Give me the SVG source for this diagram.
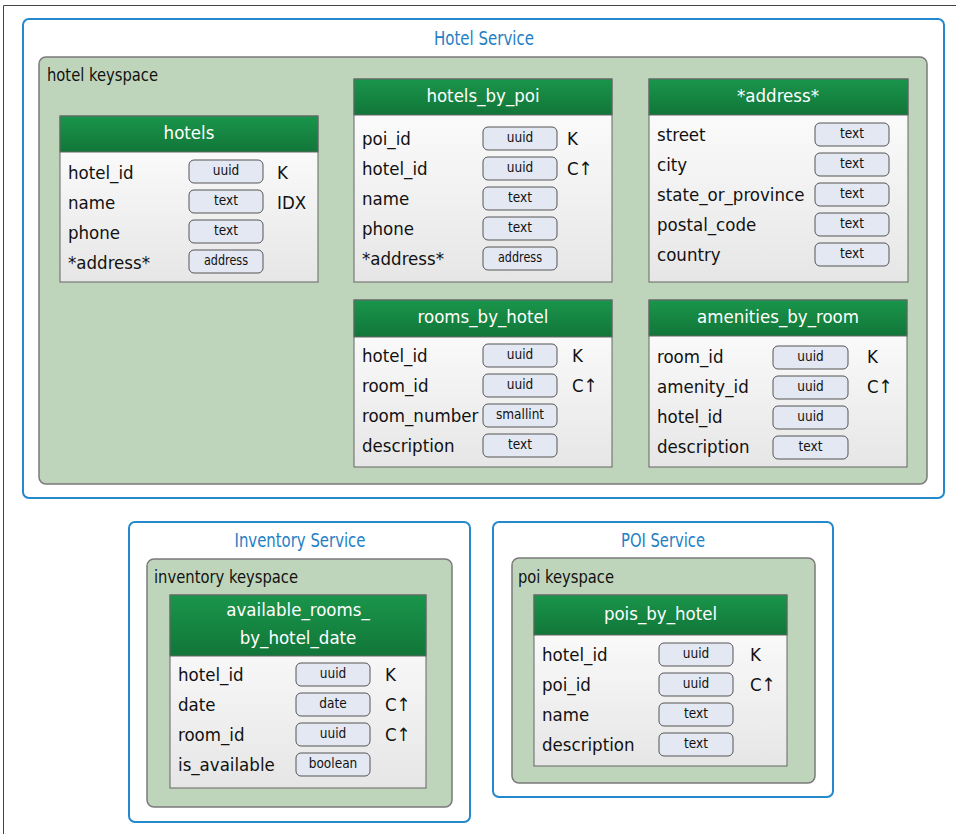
<svg xmlns="http://www.w3.org/2000/svg" width="956" height="834" viewBox="0 0 956 834">
<defs>
<linearGradient id="hdr" x1="0" y1="0" x2="0" y2="1"><stop offset="0" stop-color="#1a954b"/><stop offset="1" stop-color="#117639"/></linearGradient>
<linearGradient id="body" x1="0" y1="0" x2="0" y2="1"><stop offset="0" stop-color="#ffffff"/><stop offset="1" stop-color="#e6e6e6"/></linearGradient>
<style>
text{font-family:"DejaVu Sans Condensed","DejaVu Sans","Liberation Sans",sans-serif;font-stretch:condensed}
.svc{fill:#fff;stroke:#2388cc;stroke-width:2}
.svct{fill:#1f80c4;font-size:20px;text-anchor:middle}
.ks{fill:#bfd5bb;stroke:#7a7a7a;stroke-width:1.5}
.kst{fill:#111;font-size:18.5px}
.tb{fill:url(#body);stroke:#666;stroke-width:1}
.hd{fill:url(#hdr);stroke:#666;stroke-width:1}
.hdt{fill:#fff;font-size:18.5px;text-anchor:middle}
.lb{fill:#111;font-size:18.5px}
.pill{fill:#e3e8f3;stroke:#555;stroke-width:1}
.pt{fill:#111;font-size:13.5px;text-anchor:middle}
.frame{stroke:#444;stroke-width:1;fill:none}
</style>
</defs>
<path class="frame" d="M3.5,834 V5.5 H956"/>

<g id="hotel-service">
<rect class="svc" x="23" y="19" width="921" height="479" rx="6"/>
<text class="svct" x="484" y="45" textLength="100" lengthAdjust="spacingAndGlyphs">Hotel Service</text>
</g>
<g id="hotel-keyspace">
<rect class="ks" x="39" y="57" width="888" height="427" rx="7"/>
<text class="kst" x="47" y="81" textLength="111" lengthAdjust="spacingAndGlyphs">hotel keyspace</text>
</g>

<g id="hotels">
<rect class="tb" x="60" y="116" width="258" height="166"/>
<rect class="hd" x="60" y="116" width="258" height="36"/>
<text class="hdt" x="189" y="139">hotels</text>
<text class="lb" x="68" y="179">hotel_id</text>
<text class="lb" x="68" y="209">name</text>
<text class="lb" x="68" y="239">phone</text>
<text class="lb" x="68" y="269">*address*</text>
<rect class="pill" x="189" y="160" width="74" height="23" rx="5"/><text class="pt" x="226" y="175">uuid</text>
<rect class="pill" x="189" y="190" width="74" height="23" rx="5"/><text class="pt" x="226" y="205">text</text>
<rect class="pill" x="189" y="220" width="74" height="23" rx="5"/><text class="pt" x="226" y="235">text</text>
<rect class="pill" x="189" y="250" width="74" height="23" rx="5"/><text class="pt" x="226" y="265" textLength="44" lengthAdjust="spacingAndGlyphs">address</text>
<text class="lb" x="277" y="179">K</text>
<text class="lb" x="277" y="209">IDX</text>
</g>

<g id="hotels_by_poi">
<rect class="tb" x="354" y="79" width="258" height="203"/>
<rect class="hd" x="354" y="79" width="258" height="36"/>
<text class="hdt" x="483" y="102">hotels_by_poi</text>
<text class="lb" x="362" y="145">poi_id</text>
<text class="lb" x="362" y="175">hotel_id</text>
<text class="lb" x="362" y="205">name</text>
<text class="lb" x="362" y="235">phone</text>
<text class="lb" x="362" y="265">*address*</text>
<rect class="pill" x="483" y="127" width="74" height="23" rx="5"/><text class="pt" x="520" y="142">uuid</text>
<rect class="pill" x="483" y="157" width="74" height="23" rx="5"/><text class="pt" x="520" y="172">uuid</text>
<rect class="pill" x="483" y="187" width="74" height="23" rx="5"/><text class="pt" x="520" y="202">text</text>
<rect class="pill" x="483" y="217" width="74" height="23" rx="5"/><text class="pt" x="520" y="232">text</text>
<rect class="pill" x="483" y="247" width="74" height="23" rx="5"/><text class="pt" x="520" y="262" textLength="44" lengthAdjust="spacingAndGlyphs">address</text>
<text class="lb" x="567" y="145">K</text>
<text class="lb" x="567" y="175">C↑</text>
</g>

<g id="address-type">
<rect class="tb" x="649" y="79" width="259" height="203"/>
<rect class="hd" x="649" y="79" width="259" height="36"/>
<text class="hdt" x="778" y="102">*address*</text>
<text class="lb" x="657" y="141">street</text>
<text class="lb" x="657" y="171">city</text>
<text class="lb" x="657" y="201">state_or_province</text>
<text class="lb" x="657" y="231">postal_code</text>
<text class="lb" x="657" y="261">country</text>
<rect class="pill" x="815" y="123" width="74" height="23" rx="5"/><text class="pt" x="852" y="138">text</text>
<rect class="pill" x="815" y="153" width="74" height="23" rx="5"/><text class="pt" x="852" y="168">text</text>
<rect class="pill" x="815" y="183" width="74" height="23" rx="5"/><text class="pt" x="852" y="198">text</text>
<rect class="pill" x="815" y="213" width="74" height="23" rx="5"/><text class="pt" x="852" y="228">text</text>
<rect class="pill" x="815" y="243" width="74" height="23" rx="5"/><text class="pt" x="852" y="258">text</text>
</g>

<g id="rooms_by_hotel">
<rect class="tb" x="354" y="300" width="258" height="167"/>
<rect class="hd" x="354" y="300" width="258" height="37"/>
<text class="hdt" x="483" y="323">rooms_by_hotel</text>
<text class="lb" x="362" y="362">hotel_id</text>
<text class="lb" x="362" y="392">room_id</text>
<text class="lb" x="362" y="422">room_number</text>
<text class="lb" x="362" y="452">description</text>
<rect class="pill" x="483" y="344" width="74" height="23" rx="5"/><text class="pt" x="520" y="359">uuid</text>
<rect class="pill" x="483" y="374" width="74" height="23" rx="5"/><text class="pt" x="520" y="389">uuid</text>
<rect class="pill" x="483" y="404" width="74" height="23" rx="5"/><text class="pt" x="520" y="419">smallint</text>
<rect class="pill" x="483" y="434" width="74" height="23" rx="5"/><text class="pt" x="520" y="449">text</text>
<text class="lb" x="572" y="362">K</text>
<text class="lb" x="572" y="392">C↑</text>
</g>

<g id="amenities_by_room">
<rect class="tb" x="649" y="300" width="258" height="167"/>
<rect class="hd" x="649" y="300" width="258" height="36"/>
<text class="hdt" x="778" y="323">amenities_by_room</text>
<text class="lb" x="657" y="363">room_id</text>
<text class="lb" x="657" y="393">amenity_id</text>
<text class="lb" x="657" y="423">hotel_id</text>
<text class="lb" x="657" y="453">description</text>
<rect class="pill" x="773" y="346" width="75" height="23" rx="5"/><text class="pt" x="810.5" y="361">uuid</text>
<rect class="pill" x="773" y="376" width="75" height="23" rx="5"/><text class="pt" x="810.5" y="391">uuid</text>
<rect class="pill" x="773" y="406" width="75" height="23" rx="5"/><text class="pt" x="810.5" y="421">uuid</text>
<rect class="pill" x="773" y="436" width="75" height="23" rx="5"/><text class="pt" x="810.5" y="451">text</text>
<text class="lb" x="867" y="363">K</text>
<text class="lb" x="867" y="393">C↑</text>
</g>

<g id="inventory-service">
<rect class="svc" x="129" y="522" width="341" height="300" rx="6"/>
<text class="svct" x="300" y="547" textLength="131" lengthAdjust="spacingAndGlyphs">Inventory Service</text>
</g>
<g id="inventory-keyspace">
<rect class="ks" x="147" y="559" width="305" height="248" rx="7"/>
<text class="kst" x="154" y="583" textLength="144" lengthAdjust="spacingAndGlyphs">inventory keyspace</text>
</g>
<g id="available_rooms_by_hotel_date">
<rect class="tb" x="170" y="595" width="256" height="193"/>
<rect class="hd" x="170" y="595" width="256" height="61"/>
<text class="hdt" x="298" y="616">available_rooms_</text>
<text class="hdt" x="298" y="644">by_hotel_date</text>
<text class="lb" x="178" y="681">hotel_id</text>
<text class="lb" x="178" y="711">date</text>
<text class="lb" x="178" y="741">room_id</text>
<text class="lb" x="178" y="771">is_available</text>
<rect class="pill" x="296" y="663" width="74" height="23" rx="5"/><text class="pt" x="333" y="678">uuid</text>
<rect class="pill" x="296" y="693" width="74" height="23" rx="5"/><text class="pt" x="333" y="708">date</text>
<rect class="pill" x="296" y="723" width="74" height="23" rx="5"/><text class="pt" x="333" y="738">uuid</text>
<rect class="pill" x="296" y="753" width="74" height="23" rx="5"/><text class="pt" x="333" y="768">boolean</text>
<text class="lb" x="385" y="681">K</text>
<text class="lb" x="385" y="711">C↑</text>
<text class="lb" x="385" y="741">C↑</text>
</g>

<g id="poi-service">
<rect class="svc" x="493" y="522" width="340" height="275" rx="6"/>
<text class="svct" x="663" y="547" textLength="84" lengthAdjust="spacingAndGlyphs">POI Service</text>
</g>
<g id="poi-keyspace">
<rect class="ks" x="512" y="558" width="303" height="225" rx="7"/>
<text class="kst" x="518" y="583" textLength="96" lengthAdjust="spacingAndGlyphs">poi keyspace</text>
</g>
<g id="pois_by_hotel">
<rect class="tb" x="534" y="595" width="253" height="171"/>
<rect class="hd" x="534" y="595" width="253" height="40"/>
<text class="hdt" x="660.5" y="620">pois_by_hotel</text>
<text class="lb" x="542" y="661">hotel_id</text>
<text class="lb" x="542" y="691">poi_id</text>
<text class="lb" x="542" y="721">name</text>
<text class="lb" x="542" y="751">description</text>
<rect class="pill" x="659" y="643" width="74" height="23" rx="5"/><text class="pt" x="696" y="658">uuid</text>
<rect class="pill" x="659" y="673" width="74" height="23" rx="5"/><text class="pt" x="696" y="688">uuid</text>
<rect class="pill" x="659" y="703" width="74" height="23" rx="5"/><text class="pt" x="696" y="718">text</text>
<rect class="pill" x="659" y="733" width="74" height="23" rx="5"/><text class="pt" x="696" y="748">text</text>
<text class="lb" x="750" y="661">K</text>
<text class="lb" x="750" y="691">C↑</text>
</g>

<g id="connectors"></g>
</svg>
